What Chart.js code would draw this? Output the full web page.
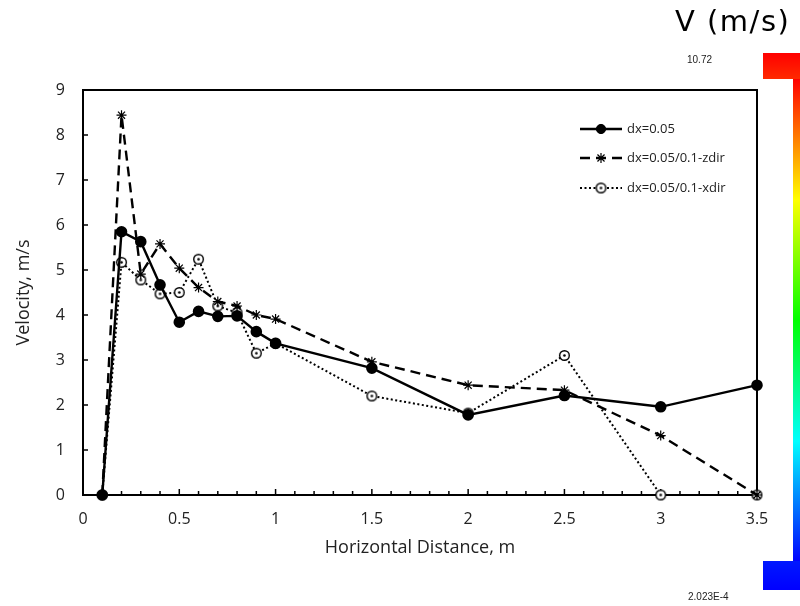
<!DOCTYPE html>
<html>
<head>
<meta charset="utf-8">
<title>Velocity vs Horizontal Distance</title>
<script src="https://cdn.jsdelivr.net/npm/chart.js@4.4.1/dist/chart.umd.min.js"></script>
<style>
  body { margin: 0; background: #fff; }
  #wrap { position: relative; width: 800px; height: 606px; overflow: hidden; }
  #chart { position: absolute; left: 0; top: 0; }
  .cb-title { position: absolute; left: 675px; top: 4px; font: 29px 'DejaVu Sans', sans-serif; letter-spacing: 1.5px; color: #000; white-space: nowrap; }
  .cb-label { position: absolute; font: 10px 'Liberation Sans', Arial, sans-serif; color: #222; white-space: nowrap; }
  .cb-block { position: absolute; left: 763px; width: 40px; }
  .cb-strip { position: absolute; left: 793px; width: 10px; top: 79px; height: 483px;
    background: linear-gradient(to bottom, #ff0000 0%, #ffff00 25%, #00ff00 50%, #00ffff 75%, #0000ff 100%); }
</style>
</head>
<body>
<div id="wrap">
  <canvas id="chart" width="800" height="606"></canvas>
  <div class="cb-title">V (m/s)</div>
  <div class="cb-label" id="cbMax" style="left:687px; top:54px;"></div>
  <div class="cb-label" id="cbMin" style="left:688px; top:591px;"></div>
  <div class="cb-block" style="top:53px; height:26px; background:linear-gradient(to bottom,#ff0000,#ff2a00);"></div>
  <div class="cb-strip"></div>
  <div class="cb-block" style="top:561px; height:29px; background:linear-gradient(to bottom,#0018ff,#0000ff);"></div>
</div>
<script>
// ─── Data ────────────────────────────────────────────────────
const distance = [0.1, 0.2, 0.3, 0.4, 0.5, 0.6, 0.7, 0.8, 0.9, 1.0, 1.5, 2.0, 2.5, 3.0, 3.5];
const velDx005 = [0, 5.85, 5.63, 4.67, 3.84, 4.08, 3.97, 3.98, 3.63, 3.37, 2.82, 1.78, 2.21, 1.96, 2.44];
const velZdir  = [0, 8.44, 4.91, 5.58, 5.04, 4.61, 4.30, 4.20, 4.00, 3.91, 2.96, 2.44, 2.33, 1.32, 0];
const velXdir  = [0, 5.17, 4.78, 4.47, 4.50, 5.24, 4.20, 4.05, 3.15, 3.37, 2.20, 1.82, 3.10, 0, 0];
const seriesLabels = ['dx=0.05', 'dx=0.05/0.1-zdir', 'dx=0.05/0.1-xdir'];
const colorbarLabels = ['10.72', '2.023E-4'];

document.getElementById('cbMax').textContent = colorbarLabels[0];
document.getElementById('cbMin').textContent = colorbarLabels[1];

const toPoints = vals => distance.map((d, i) => ({ x: d, y: vals[i] }));

// open circle with a dot in the middle
function dotCircle() {
  const c = document.createElement('canvas');
  c.width = 13; c.height = 13;
  const g = c.getContext('2d');
  g.fillStyle = '#fff';
  g.strokeStyle = '#000';
  g.lineWidth = 1.4;
  g.beginPath(); g.arc(6.5, 6.5, 4.8, 0, Math.PI * 2); g.fill(); g.stroke();
  g.fillStyle = '#000';
  g.beginPath(); g.arc(6.5, 6.5, 1.3, 0, Math.PI * 2); g.fill();
  return c;
}
const dotCircleImg = dotCircle();

const isMajor = v => Math.abs(v * 2 - Math.round(v * 2)) < 1e-6;

// ─── Frame, inward ticks, legend ─────────────────────────────
const framePlugin = {
  id: 'frame',
  beforeDatasetsDraw(chart) {
    const { ctx, chartArea: a, scales: { x, y } } = chart;
    ctx.save();
    ctx.strokeStyle = '#000';
    ctx.lineWidth = 2;
    ctx.strokeRect(a.left, a.top, a.right - a.left, a.bottom - a.top);
    ctx.lineWidth = 1.5;
    x.ticks.forEach(t => {
      const px = x.getPixelForValue(t.value);
      ctx.beginPath();
      ctx.moveTo(px, a.bottom);
      ctx.lineTo(px, a.bottom - (isMajor(t.value) ? 6 : 4));
      ctx.stroke();
    });
    y.ticks.forEach(t => {
      const py = y.getPixelForValue(t.value);
      ctx.beginPath();
      ctx.moveTo(a.left, py);
      ctx.lineTo(a.left + 5, py);
      ctx.stroke();
    });
    ctx.restore();
  },
  afterDraw(chart) {
    const { ctx } = chart;
    const rows = [129, 158, 188];
    ctx.save();
    chart.data.datasets.forEach((ds, i) => {
      const yy = rows[i];
      ctx.strokeStyle = '#000';
      ctx.lineWidth = ds.borderWidth;
      ctx.setLineDash(ds.borderDash || []);
      ctx.beginPath();
      ctx.moveTo(580, yy);
      ctx.lineTo(622, yy);
      ctx.stroke();
      ctx.setLineDash([]);
      ctx.fillStyle = '#000';
      ctx.lineWidth = ds.pointBorderWidth || 1;
      Chart.helpers.drawPoint(ctx, {
        pointStyle: ds.pointStyle, radius: ds.pointRadius, borderWidth: ds.pointBorderWidth || 1, rotation: 0
      }, 601, yy);
      if (ds.pointStyle === 'circle') { ctx.beginPath(); ctx.arc(601, yy, ds.pointRadius, 0, Math.PI * 2); ctx.fill(); }
      ctx.fillStyle = '#222';
      ctx.font = "13px 'Open Sans', sans-serif";
      ctx.textBaseline = 'middle';
      ctx.fillText(ds.label, 627, yy);
    });
    ctx.restore();
  }
};

new Chart(document.getElementById('chart'), {
  type: 'scatter',
  data: {
    datasets: [
      {
        label: seriesLabels[0],
        data: toPoints(velDx005),
        showLine: true,
        borderColor: '#000',
        borderWidth: 2.4,
        pointStyle: 'circle',
        pointRadius: 4.6,
        pointBackgroundColor: '#000',
        pointBorderColor: '#000',
        clip: false
      },
      {
        label: seriesLabels[1],
        data: toPoints(velZdir),
        showLine: true,
        borderColor: '#000',
        borderWidth: 2.4,
        borderDash: [10, 6],
        pointStyle: 'star',
        pointRadius: 5,
        pointBorderWidth: 1.2,
        pointBorderColor: '#000',
        clip: false
      },
      {
        label: seriesLabels[2],
        data: toPoints(velXdir),
        showLine: true,
        borderColor: '#000',
        borderWidth: 2,
        borderDash: [2, 2.5],
        pointStyle: dotCircleImg,
        pointRadius: 6,
        clip: false
      }
    ]
  },
  options: {
    responsive: false,
    animation: false,
    layout: { padding: { left: 0, top: 90, right: 43, bottom: 0 } },
    plugins: { legend: { display: false }, tooltip: { enabled: false } },
    scales: {
      x: {
        type: 'linear',
        min: 0,
        max: 3.5,
        afterFit: s => { s.height = 111; },
        grid: { display: false, drawTicks: false },
        border: { display: false },
        ticks: {
          stepSize: 0.1,
          autoSkip: false,
          maxRotation: 0,
          padding: 15,
          color: '#222',
          font: { family: "'Open Sans', sans-serif", size: 16 },
          callback: v => isMajor(v) ? String(Math.round(v * 2) / 2) : ''
        },
        title: {
          display: true,
          text: 'Horizontal Distance, m',
          color: '#222',
          font: { family: "'Open Sans', sans-serif", size: 18 },
          padding: { top: 0, bottom: 47 }
        }
      },
      y: {
        min: 0,
        max: 9,
        afterFit: s => { s.width = 83; },
        grid: { display: false, drawTicks: false },
        border: { display: false },
        ticks: {
          stepSize: 1,
          padding: 18,
          color: '#222',
          font: { family: "'Open Sans', sans-serif", size: 16 }
        },
        title: {
          display: true,
          text: 'Velocity, m/s',
          color: '#222',
          font: { family: "'Open Sans', sans-serif", size: 18 },
          padding: { top: 13, bottom: 0 }
        }
      }
    }
  },
  plugins: [framePlugin]
});
</script>
</body>
</html>
